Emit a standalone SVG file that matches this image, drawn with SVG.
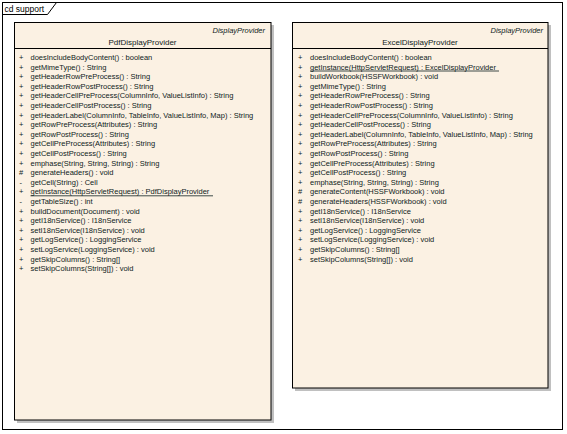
<svg xmlns="http://www.w3.org/2000/svg" width="567" height="434" viewBox="0 0 567 434">
<style>
.frame{fill:none;stroke:#000;stroke-width:1}
.box{fill:#FBF1E3;stroke:#000;stroke-width:1}
.shadow{fill:#C0C0C0}
.sep{stroke:#000;stroke-width:1}
text{font-family:"Liberation Sans",Arial,sans-serif;fill:#0f2222}
.m{font-size:7.5px}
.ster{font-size:7.5px;font-style:italic;text-anchor:end}
.name{font-size:8px;text-anchor:middle}
.title{font-size:8.5px;fill:#000}
.ul{stroke:#0f2222;stroke-width:0.8}
</style>
<rect width="567" height="434" fill="#fff"/>
<g id="frame">
<rect class="frame" x="2.5" y="2.5" width="560" height="427"/>
<path class="frame" d="M2.5 14.5 H47.5 L56.5 2.5"/>
<text class="title" x="4.5" y="11.5">cd support</text>
</g>
<g id="connectors"></g>
<g id="PdfDisplayProvider">
<rect class="shadow" x="17" y="25" width="257" height="398"/>
<rect class="box" x="14.5" y="22.5" width="256.5" height="397.5"/>
<text class="ster" x="265" y="33">DisplayProvider</text>
<text class="name" x="142.5" y="44.5">PdfDisplayProvider</text>
<line class="sep" x1="14.5" y1="48.5" x2="271" y2="48.5"/>
<g class="m">
<text x="19" y="60">+</text><text x="30.5" y="60">doesIncludeBodyContent() : boolean</text>
<text x="19" y="69.6">+</text><text x="30.5" y="69.6">getMimeType() : String</text>
<text x="19" y="79.2">+</text><text x="30.5" y="79.2">getHeaderRowPreProcess() : String</text>
<text x="19" y="88.8">+</text><text x="30.5" y="88.8">getHeaderRowPostProcess() : String</text>
<text x="19" y="98.4">+</text><text x="30.5" y="98.4">getHeaderCellPreProcess(ColumnInfo, ValueListInfo) : String</text>
<text x="19" y="108">+</text><text x="30.5" y="108">getHeaderCellPostProcess() : String</text>
<text x="19" y="117.6">+</text><text x="30.5" y="117.6">getHeaderLabel(ColumnInfo, TableInfo, ValueListInfo, Map) : String</text>
<text x="19" y="127.2">+</text><text x="30.5" y="127.2">getRowPreProcess(Attributes) : String</text>
<text x="19" y="136.8">+</text><text x="30.5" y="136.8">getRowPostProcess() : String</text>
<text x="19" y="146.4">+</text><text x="30.5" y="146.4">getCellPreProcess(Attributes) : String</text>
<text x="19" y="156">+</text><text x="30.5" y="156">getCellPostProcess() : String</text>
<text x="19" y="165.6">+</text><text x="30.5" y="165.6">emphase(String, String, String) : String</text>
<text x="19" y="175.2">#</text><text x="30.5" y="175.2">generateHeaders() : void</text>
<text x="19.5" y="184.8">-</text><text x="30.5" y="184.8">getCell(String) : Cell</text>
<text x="19" y="194.4">+</text><text x="30.5" y="194.4">getInstance(HttpServletRequest) : PdfDisplayProvider</text>
<text x="19.5" y="204">-</text><text x="30.5" y="204">getTableSize() : int</text>
<text x="19" y="213.6">+</text><text x="30.5" y="213.6">buildDocument(Document) : void</text>
<text x="19" y="223.2">+</text><text x="30.5" y="223.2">getI18nService() : I18nService</text>
<text x="19" y="232.8">+</text><text x="30.5" y="232.8">setI18nService(I18nService) : void</text>
<text x="19" y="242.4">+</text><text x="30.5" y="242.4">getLogService() : LoggingService</text>
<text x="19" y="252">+</text><text x="30.5" y="252">setLogService(LoggingService) : void</text>
<text x="19" y="261.6">+</text><text x="30.5" y="261.6">getSkipColumns() : String[]</text>
<text x="19" y="271.2">+</text><text x="30.5" y="271.2">setSkipColumns(String[]) : void</text>
</g>
<line class="ul" x1="30.5" y1="195.8" x2="213" y2="195.8"/>
</g>
<g id="ExcelDisplayProvider">
<rect class="shadow" x="295" y="25" width="256" height="366"/>
<rect class="box" x="292.5" y="22.5" width="255.5" height="365.5"/>
<text class="ster" x="543" y="33">DisplayProvider</text>
<text class="name" x="420" y="44.5">ExcelDisplayProvider</text>
<line class="sep" x1="292.5" y1="48.5" x2="548" y2="48.5"/>
<g class="m">
<text x="298" y="60">+</text><text x="310" y="60">doesIncludeBodyContent() : boolean</text>
<text x="298" y="69.6">+</text><text x="310" y="69.6">getInstance(HttpServletRequest) : ExcelDisplayProvider</text>
<text x="298" y="79.2">+</text><text x="310" y="79.2">buildWorkbook(HSSFWorkbook) : void</text>
<text x="298" y="88.8">+</text><text x="310" y="88.8">getMimeType() : String</text>
<text x="298" y="98.4">+</text><text x="310" y="98.4">getHeaderRowPreProcess() : String</text>
<text x="298" y="108">+</text><text x="310" y="108">getHeaderRowPostProcess() : String</text>
<text x="298" y="117.6">+</text><text x="310" y="117.6">getHeaderCellPreProcess(ColumnInfo, ValueListInfo) : String</text>
<text x="298" y="127.2">+</text><text x="310" y="127.2">getHeaderCellPostProcess() : String</text>
<text x="298" y="136.8">+</text><text x="310" y="136.8">getHeaderLabel(ColumnInfo, TableInfo, ValueListInfo, Map) : String</text>
<text x="298" y="146.4">+</text><text x="310" y="146.4">getRowPreProcess(Attributes) : String</text>
<text x="298" y="156">+</text><text x="310" y="156">getRowPostProcess() : String</text>
<text x="298" y="165.6">+</text><text x="310" y="165.6">getCellPreProcess(Attributes) : String</text>
<text x="298" y="175.2">+</text><text x="310" y="175.2">getCellPostProcess() : String</text>
<text x="298" y="184.8">+</text><text x="310" y="184.8">emphase(String, String, String) : String</text>
<text x="298" y="194.4">#</text><text x="310" y="194.4">generateContent(HSSFWorkbook) : void</text>
<text x="298" y="204">#</text><text x="310" y="204">generateHeaders(HSSFWorkbook) : void</text>
<text x="298" y="213.6">+</text><text x="310" y="213.6">getI18nService() : I18nService</text>
<text x="298" y="223.2">+</text><text x="310" y="223.2">setI18nService(I18nService) : void</text>
<text x="298" y="232.8">+</text><text x="310" y="232.8">getLogService() : LoggingService</text>
<text x="298" y="242.4">+</text><text x="310" y="242.4">setLogService(LoggingService) : void</text>
<text x="298" y="252">+</text><text x="310" y="252">getSkipColumns() : String[]</text>
<text x="298" y="261.6">+</text><text x="310" y="261.6">setSkipColumns(String[]) : void</text>
</g>
<line class="ul" x1="310" y1="71" x2="499" y2="71"/>
</g>
</svg>
